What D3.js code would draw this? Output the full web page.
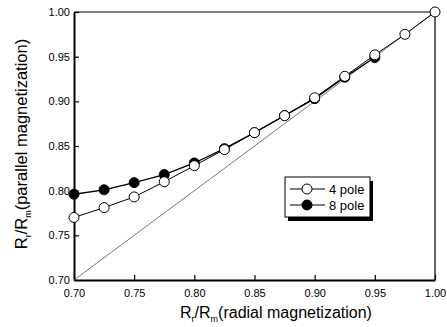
<!DOCTYPE html>
<html><head><meta charset="utf-8">
<script src="https://cdn.jsdelivr.net/npm/d3@7"></script>
<style>body{margin:0;background:#fff}svg{display:block}text{font-family:"Liberation Sans",Arial,sans-serif}</style>
</head><body><svg id="c" width="447" height="327"></svg>
<script>
const xVals4 = [0.70,0.725,0.75,0.775,0.80,0.825,0.85,0.875,0.90,0.925,0.95,0.975,1.00];
const pole4 = [0.770,0.781,0.793,0.810,0.828,0.846,0.865,0.884,0.904,0.928,0.952,0.975,1.000];
const xVals8 = [0.70,0.725,0.75,0.775,0.80,0.825,0.85,0.875,0.90,0.925,0.95];
const pole8 = [0.796,0.801,0.809,0.818,0.831,0.847,0.865,0.884,0.903,0.927,0.949];
const diag = [0.70,1.00];
const xTicks = [0.70,0.75,0.80,0.85,0.90,0.95,1.00];
const yTicks = [0.70,0.75,0.80,0.85,0.90,0.95,1.00];
const legendLabels = ["4 pole","8 pole"];

const svg = d3.select("#c");
const x = d3.scaleLinear().domain([0.70,1.00]).range([74,435]);
const y = d3.scaleLinear().domain([0.70,1.00]).range([280,12]);

// frame top/right
svg.append("line").attr("x1",74).attr("x2",435).attr("y1",12).attr("y2",12).attr("stroke","#000").attr("stroke-width",1);
svg.append("line").attr("x1",435).attr("x2",435).attr("y1",12).attr("y2",280).attr("stroke","#000").attr("stroke-width",1.2);

const xAxis = svg.append("g").attr("transform","translate(0,280)")
  .call(d3.axisBottom(x).tickValues(xTicks).tickFormat(d3.format(".2f")).tickSizeInner(-5).tickSizeOuter(0).tickPadding(9));
const yAxis = svg.append("g").attr("transform","translate(74,0)")
  .call(d3.axisLeft(y).tickValues(yTicks).tickFormat(d3.format(".2f")).tickSizeInner(-5).tickSizeOuter(0).tickPadding(4));
[xAxis,yAxis].forEach(g=>{
  g.select(".domain").attr("stroke","#000").attr("stroke-width",2);
  g.selectAll(".tick line").attr("stroke","#000").attr("stroke-width",1.2);
  g.selectAll(".tick text").attr("font-size",11).attr("fill","#000");
});
xAxis.selectAll(".tick text").attr("dy","0.71em");

// diagonal
svg.append("line").attr("x1",x(diag[0])).attr("y1",y(diag[0])).attr("x2",x(diag[1])).attr("y2",y(diag[1]))
  .attr("stroke","#555").attr("stroke-width",0.8);

const line = d3.line().x(d=>x(d[0])).y(d=>y(d[1]));
const d8 = xVals8.map((v,i)=>[v,pole8[i]]);
const d4 = xVals4.map((v,i)=>[v,pole4[i]]);
svg.append("path").attr("d",line(d8)).attr("fill","none").attr("stroke","#000").attr("stroke-width",1.3);
svg.append("path").attr("d",line(d4)).attr("fill","none").attr("stroke","#000").attr("stroke-width",1);
svg.selectAll(".p8").data(d8).enter().append("circle").attr("cx",d=>x(d[0])).attr("cy",d=>y(d[1])).attr("r",5)
  .attr("fill","#000").attr("stroke","#000");
svg.selectAll(".p4").data(d4).enter().append("circle").attr("cx",d=>x(d[0])).attr("cy",d=>y(d[1])).attr("r",5)
  .attr("fill","#fff").attr("stroke","#000").attr("stroke-width",1);

// legend
const lg = svg.append("g");
lg.append("rect").attr("x",288).attr("y",181).attr("width",85).attr("height",40).attr("fill","#000");
lg.append("rect").attr("x",285).attr("y",177).attr("width",85).attr("height",40).attr("fill","#fff").attr("stroke","#000").attr("stroke-width",1);
legendLabels.forEach((t,i)=>{
  const yy = 189 + i*16;
  lg.append("line").attr("x1",290).attr("x2",325).attr("y1",yy).attr("y2",yy).attr("stroke","#000").attr("stroke-width",1);
  lg.append("circle").attr("cx",307).attr("cy",yy).attr("r",5).attr("fill",i===0?"#fff":"#000").attr("stroke","#000");
  lg.append("text").attr("x",329).attr("y",yy+5).attr("font-size",13).text(t);
});

// axis titles
const xt = svg.append("text").attr("x",276).attr("y",318).attr("text-anchor","middle").attr("font-size",16);
xt.append("tspan").text("R");
xt.append("tspan").attr("font-size",9).attr("dy",4).text("r");
xt.append("tspan").attr("dy",-4).text("/R");
xt.append("tspan").attr("font-size",9).attr("dy",4).text("m");
xt.append("tspan").attr("dy",-4).text("(radial magnetization)");

const yt = svg.append("text").attr("transform","translate(27,144) rotate(-90)").attr("text-anchor","middle").attr("font-size",16.5);
yt.append("tspan").text("R");
yt.append("tspan").attr("font-size",9).attr("dy",4).text("r");
yt.append("tspan").attr("dy",-4).text("/R");
yt.append("tspan").attr("font-size",9).attr("dy",4).text("m");
yt.append("tspan").attr("dy",-4).text("(parallel magnetization)");
</script></body></html>
